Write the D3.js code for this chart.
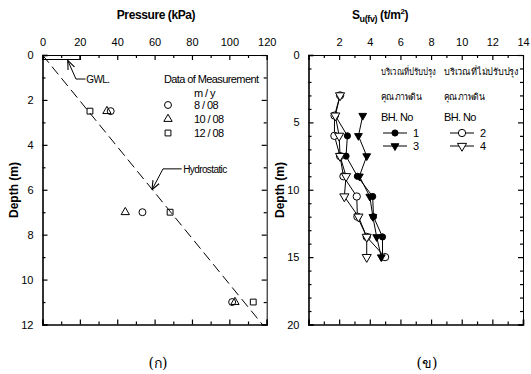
<!DOCTYPE html>
<html>
<head>
<meta charset="utf-8">
<script src="https://cdn.jsdelivr.net/npm/d3@7"></script>
<style>
  body { margin: 0; background: #fff; }
  svg { display: block; font-family: "Liberation Sans", Arial, sans-serif; }
  .tick text { font-size: 11px; fill: #000; }
</style>
</head>
<body>
<svg id="chart" width="531" height="374"></svg>
<script>
// ---- data ----
// panel (a): pore pressure vs depth
var measDepth = [2.5, 7, 11];
var press0808 = [36.5, 53.5, 101.5];
var press1008 = [34.5, 44.3, 103];
var press1208 = [25.4, 68.3, 112.8];
var hydroDepth = [0, 12];
var hydroPress = [0, 117.7];
var legendDates = ["8 / 08", "10 / 08", "12 / 08"];

// panel (b): field vane strength vs depth
var vaneDepth = [3, 4.5, 6, 7.5, 9, 10.5, 12, 13.5, 15];
var bh1 = [null, 1.75, 2.54, 2.45, 3.19, 4.19, 4.24, 4.83, 4.83];
var bh2 = [2.06, 1.7, 1.69, 2.06, 2.28, 3.15, 3.19, 3.8, 5.0];
var bh3 = [null, 3.54, 3.26, 3.8, 3.32, 4.0, 4.2, 4.45, 4.75];
var bh4 = [2.06, 1.75, 2.0, 2.06, 2.45, 2.34, 3.26, 3.8, 3.8];
var bhNames = ["1", "2", "3", "4"];

var svg = d3.select("#chart");

// arrow head for the annotations
var defs = svg.append("defs");
defs.append("marker")
  .attr("id", "arr")
  .attr("viewBox", "0 0 10 10")
  .attr("refX", 10).attr("refY", 5)
  .attr("markerWidth", 9).attr("markerHeight", 9)
  .attr("markerUnits", "userSpaceOnUse")
  .attr("orient", "auto")
  .append("path")
  .attr("d", "M0,1 L10,5 L0,9")
  .attr("fill", "none").attr("stroke", "#000").attr("stroke-width", 1.2);

// the left figure is cut off just after "12" of the 120 label
defs.append("clipPath").attr("id", "clipL")
  .append("rect").attr("x", 0).attr("y", 0).attr("width", 278).attr("height", 374);

// draws the box with inward ticks on all four sides
function frame(g, x, y, xMajor, xMinor, yMajor, yMinor, xLabels) {
  var x0 = x.range()[0], x1 = x.range()[1], y0 = y.range()[0], y1 = y.range()[1];

  // top axis with labels
  g.append("g").attr("transform", "translate(0," + y0 + ")")
    .call(d3.axisTop(x).tickValues(xMajor).tickSize(-5).tickPadding(9)
      .tickFormat(function(d) { return xLabels.indexOf(d) >= 0 ? d : ""; }))
    .select(".domain").attr("stroke-width", 1);
  g.append("g").attr("transform", "translate(0," + y0 + ")")
    .call(d3.axisTop(x).tickValues(xMinor).tickSize(-3).tickFormat(""))
    .select(".domain").remove();

  // bottom axis, ticks only
  g.append("g").attr("transform", "translate(0," + y1 + ")")
    .call(d3.axisBottom(x).tickValues(xMajor).tickSize(-5).tickFormat(""))
    .select(".domain").attr("stroke-width", 1.6);
  g.append("g").attr("transform", "translate(0," + y1 + ")")
    .call(d3.axisBottom(x).tickValues(xMinor).tickSize(-3).tickFormat(""))
    .select(".domain").remove();

  // left axis with labels
  g.append("g").attr("transform", "translate(" + x0 + ",0)")
    .call(d3.axisLeft(y).tickValues(yMajor).tickSize(-5).tickPadding(9))
    .select(".domain").attr("stroke-width", 1.6);
  g.append("g").attr("transform", "translate(" + x0 + ",0)")
    .call(d3.axisLeft(y).tickValues(yMinor).tickSize(-3).tickFormat(""))
    .select(".domain").remove();

  // right axis, ticks only
  g.append("g").attr("transform", "translate(" + x1 + ",0)")
    .call(d3.axisRight(y).tickValues(yMajor).tickSize(-5).tickFormat(""))
    .select(".domain").attr("stroke-width", 1);
  g.append("g").attr("transform", "translate(" + x1 + ",0)")
    .call(d3.axisRight(y).tickValues(yMinor).tickSize(-3).tickFormat(""))
    .select(".domain").remove();

  g.selectAll(".tick line").attr("stroke-width", 1.2);
}

// ================= panel (a) =================
var xA = d3.scaleLinear().domain([0, 120]).range([42.5, 266.7]);
var yA = d3.scaleLinear().domain([0, 12]).range([55, 324.5]);
var gA = svg.append("g").attr("clip-path", "url(#clipL)");

frame(gA, xA, yA, d3.range(0, 121, 20), d3.range(10, 120, 20),
  d3.range(0, 13, 2), d3.range(1, 12, 2), d3.range(0, 121, 20));

svg.append("text").attr("x", 156).attr("y", 19).attr("text-anchor", "middle")
  .attr("font-size", 12).attr("font-weight", "bold").attr("letter-spacing", -0.4)
  .text("Pressure (kPa)");
svg.append("text").attr("transform", "translate(18,190) rotate(-90)")
  .attr("text-anchor", "middle").attr("font-size", 12).attr("font-weight", "bold")
  .text("Depth (m)");

// GWL marker at the top
gA.append("line")
  .attr("x1", xA(0)).attr("x2", xA(20)).attr("y1", yA(0.2)).attr("y2", yA(0.2))
  .attr("stroke", "#000").attr("stroke-width", 1);
gA.append("line")
  .attr("x1", xA(20)).attr("x2", xA(20)).attr("y1", yA(0)).attr("y2", yA(0.2))
  .attr("stroke", "#000").attr("stroke-width", 1);

// hydrostatic line
var hydro = hydroDepth.map(function(d, i) { return [hydroPress[i], d]; });
gA.append("path")
  .attr("d", d3.line().x(function(d) { return xA(d[0]); }).y(function(d) { return yA(d[1]); })(hydro))
  .attr("fill", "none").attr("stroke", "#000").attr("stroke-width", 1)
  .attr("stroke-dasharray", "10,5");

// annotations
var ann = d3.line().x(function(d) { return xA(d[0]); }).y(function(d) { return yA(d[1]); });
gA.append("path").attr("d", ann([[23, 1.07], [17.9, 1.07], [13.5, 0.24]]))
  .attr("fill", "none").attr("stroke", "#000").attr("stroke-width", 1).attr("marker-end", "url(#arr)");
gA.append("text").attr("x", xA(23.4)).attr("y", yA(1.07) + 4)
  .attr("font-size", 10).attr("letter-spacing", -0.6).text("GWL.");
gA.append("path").attr("d", ann([[74.5, 5.07], [64.5, 5.07], [58.6, 6.0]]))
  .attr("fill", "none").attr("stroke", "#000").attr("stroke-width", 1).attr("marker-end", "url(#arr)");
gA.append("text").attr("x", xA(75.3)).attr("y", yA(5.07) + 4)
  .attr("font-size", 10).attr("letter-spacing", -0.6).text("Hydrostatic");

// symbols
var sym = {
  circle: d3.symbol().type(d3.symbolCircle).size(38),
  triangle: d3.symbol().type(d3.symbolTriangle).size(30),
  square: d3.symbol().type(d3.symbolSquare).size(34)
};
function pts(g, press, type) {
  g.selectAll(null).data(measDepth).enter().append("path")
    .attr("transform", function(d, i) { return "translate(" + xA(press[i]) + "," + yA(d) + ")"; })
    .attr("d", sym[type]).attr("fill", "none").attr("stroke", "#000").attr("stroke-width", 1);
}
pts(gA, press0808, "circle");
pts(gA, press1008, "triangle");
pts(gA, press1208, "square");

// legend
var lg = gA.append("g").attr("font-size", 11).attr("letter-spacing", -0.6);
lg.append("text").attr("x", 164).attr("y", 83).text("Data of Measurement");
lg.append("text").attr("x", 194).attr("y", 97).text("m / y");
["circle", "triangle", "square"].forEach(function(t, i) {
  var yy = 105 + i * 14;
  lg.append("path").attr("transform", "translate(168," + yy + ")").attr("d", sym[t])
    .attr("fill", "none").attr("stroke", "#000").attr("stroke-width", 1);
  lg.append("text").attr("x", 194).attr("y", yy + 4).text(legendDates[i]);
});

svg.append("text").attr("x", 158).attr("y", 368).attr("text-anchor", "middle")
  .attr("font-family", "DejaVu Serif, serif").attr("font-size", 14).text("(ก)");

// ================= panel (b) =================
var xB = d3.scaleLinear().domain([0, 14]).range([308.5, 523]);
var yB = d3.scaleLinear().domain([0, 20]).range([55, 324.5]);
var gB = svg.append("g");

frame(gB, xB, yB, d3.range(0, 15, 2), d3.range(1, 14, 2),
  d3.range(0, 21, 5), d3.range(0, 21, 1).filter(function(d) { return d % 5; }),
  d3.range(2, 15, 2));

var tB = svg.append("text").attr("x", 352).attr("y", 19)
  .attr("font-size", 12).attr("font-weight", "bold").attr("letter-spacing", -0.4);
tB.append("tspan").text("S");
tB.append("tspan").attr("font-size", 9).attr("dy", 3).text("u(fv)");
tB.append("tspan").attr("dy", -3).text(" (t/m");
tB.append("tspan").attr("font-size", 8).attr("dy", -5).text("2");
tB.append("tspan").attr("dy", 5).text(")");

svg.append("text").attr("transform", "translate(284,190) rotate(-90)")
  .attr("text-anchor", "middle").attr("font-size", 12).attr("font-weight", "bold")
  .text("Depth (m)");

var bhSym = [
  { data: bh1, type: d3.symbolCircle, size: 30, fill: "#000", rot: 0 },
  { data: bh2, type: d3.symbolCircle, size: 42, fill: "#fff", rot: 0 },
  { data: bh3, type: d3.symbolTriangle, size: 26, fill: "#000", rot: 180 },
  { data: bh4, type: d3.symbolTriangle, size: 36, fill: "#fff", rot: 180 }
];
var lineB = d3.line()
  .x(function(d) { return xB(d[0]); }).y(function(d) { return yB(d[1]); });

function bhPairs(s) {
  return s.data.map(function(v, i) { return [v, vaneDepth[i]]; })
    .filter(function(d) { return d[0] != null; });
}
bhSym.forEach(function(s) {
  gB.append("path").attr("d", lineB(bhPairs(s)))
    .attr("fill", "none").attr("stroke", "#000").attr("stroke-width", 1);
});
bhSym.forEach(function(s) {
  gB.selectAll(null).data(bhPairs(s)).enter().append("path")
    .attr("transform", function(d) { return "translate(" + xB(d[0]) + "," + yB(d[1]) + ") rotate(" + s.rot + ")"; })
    .attr("d", d3.symbol().type(s.type).size(s.size))
    .attr("fill", s.fill).attr("stroke", "#000").attr("stroke-width", 1);
});

// legend (b)
var lb = gB.append("g").attr("font-size", 9.5);
lb.append("text").attr("x", 381).attr("y", 75).attr("textLength", 55).attr("lengthAdjust", "spacingAndGlyphs").text("บริเวณที่ปรับปรุง");
lb.append("text").attr("x", 444).attr("y", 75).attr("textLength", 75).attr("lengthAdjust", "spacingAndGlyphs").text("บริเวณที่ไม่ปรับปรุง");
lb.append("text").attr("x", 381).attr("y", 100).attr("textLength", 40).attr("lengthAdjust", "spacingAndGlyphs").text("คุณภาพดิน");
lb.append("text").attr("x", 444).attr("y", 100).attr("textLength", 40).attr("lengthAdjust", "spacingAndGlyphs").text("คุณภาพดิน");
lb.append("text").attr("x", 381).attr("y", 121).attr("font-size", 11).attr("letter-spacing", -0.6).text("BH. No");
lb.append("text").attr("x", 444).attr("y", 121).attr("font-size", 11).attr("letter-spacing", -0.6).text("BH. No");
var legPos = [[383, 133], [450, 133], [383, 146], [450, 146]];
bhSym.forEach(function(s, i) {
  var p = legPos[i];
  lb.append("line").attr("x1", p[0]).attr("x2", p[0] + 24).attr("y1", p[1]).attr("y2", p[1])
    .attr("stroke", "#000").attr("stroke-width", 1);
  lb.append("path").attr("transform", "translate(" + (p[0] + 12) + "," + p[1] + ") rotate(" + s.rot + ")")
    .attr("d", d3.symbol().type(s.type).size(s.size))
    .attr("fill", s.fill).attr("stroke", "#000").attr("stroke-width", 1);
  lb.append("text").attr("x", p[0] + 30).attr("y", p[1] + 4).attr("font-size", 11).text(bhNames[i]);
});

svg.append("text").attr("x", 427).attr("y", 368).attr("text-anchor", "middle")
  .attr("font-family", "DejaVu Serif, serif").attr("font-size", 14).text("(ข)");
</script>
</body>
</html>
